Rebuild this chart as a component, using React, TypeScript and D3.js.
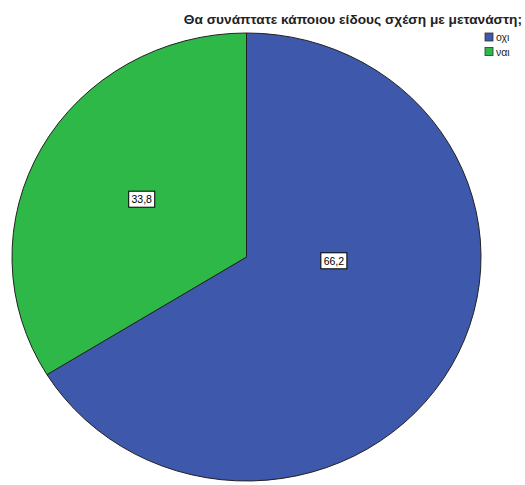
import React from "react";
import * as d3 from "d3";

const title = "Θα συνάπτατε κάποιου είδους σχέση με μετανάστη;";
const categories = ["οχι", "ναι"];
const values = [66.2, 33.8];
const valueLabels = ["66,2", "33,8"];
const colors = ["#3E58AC", "#2EB848"];
// label placement (angle in degrees clockwise from top, radial fraction)
const labelAngles = [92.6, 300];
const labelRadii = [0.373, 0.516];

export default function App() {
  const W = 525, H = 485;
  const cx = 246.5, cy = 257, rx = 234.5, ry = 224;
  const pie = d3.pie<number>().sort(null).value((d) => d);
  const arcs = pie(values);
  const arc = d3.arc<d3.PieArcDatum<number>>().innerRadius(0).outerRadius(rx);
  const sy = ry / rx;
  return (
    <svg width={W} height={H} style={{ position: "absolute", left: 0, top: 0, background: "#fff" }}
      fontFamily="'Liberation Sans', Arial, sans-serif">
      <g transform={`translate(${cx},${cy}) scale(1,${sy})`}>
        {arcs.map((a, i) => (
          <path key={i} d={arc(a) || ""} fill={colors[i]} stroke="#222" strokeWidth={1}
            vectorEffect="non-scaling-stroke" />
        ))}
      </g>
      {values.map((v, i) => {
        const ang = (labelAngles[i] * Math.PI) / 180;
        const x = cx + Math.sin(ang) * rx * labelRadii[i];
        const y = cy - Math.cos(ang) * ry * labelRadii[i];
        return (
          <g key={i} transform={`translate(${x},${y})`}>
            <rect x={-13} y={-8} width={26} height={16} fill="#fff" stroke="#000" strokeWidth={1} />
            <text x={0} y={4} textAnchor="middle" fontSize={10.5} fill="#000">{valueLabels[i]}</text>
          </g>
        );
      })}
      <text x={522} y={24} textAnchor="end" fontSize={13.7} fontWeight="bold" fill="#222">{title}</text>
      {categories.map((c, i) => (
        <g key={c} transform={`translate(485,${33 + i * 14.5})`}>
          <rect x={0} y={0} width={8} height={8} fill={colors[i]} stroke="#333" strokeWidth={0.8} />
          <text x={11} y={8} fontSize={10.5} fill="#222">{c}</text>
        </g>
      ))}
    </svg>
  );
}
